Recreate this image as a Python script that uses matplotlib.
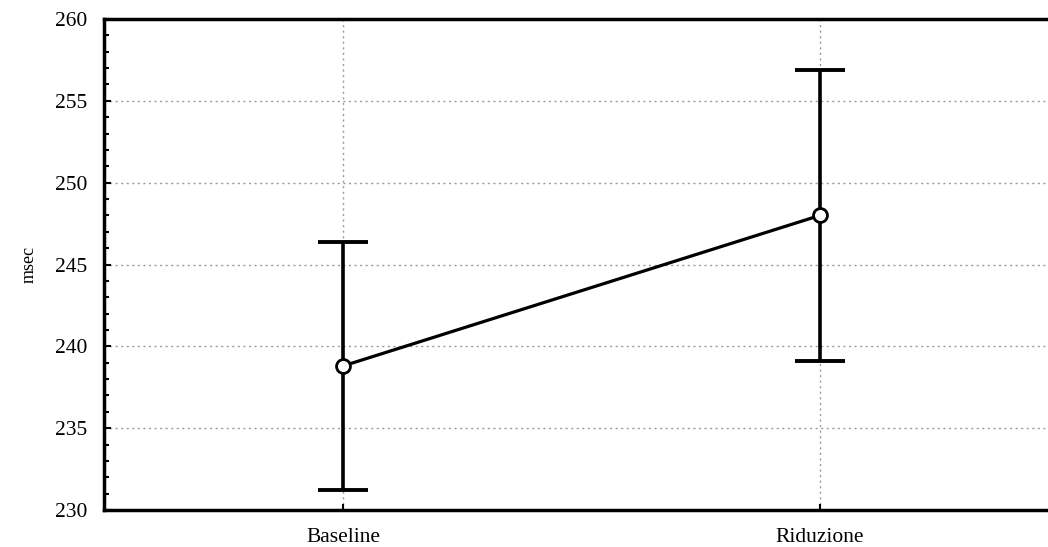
import matplotlib
matplotlib.use("Agg")
import matplotlib.pyplot as plt
from matplotlib.ticker import MultipleLocator

categories = ["Baseline", "Riduzione"]
means = [238.8, 248.0]
ci_half = [7.55, 8.9]
y_ticks = [230, 235, 240, 245, 250, 255, 260]
y_label = "msec"

plt.rcParams['font.family'] = ['Liberation Serif', 'DejaVu Serif']

W, H = 1048, 547
fig = plt.figure(figsize=(W / 100, H / 100), dpi=100)
left, right, top, bottom = 104 / W, 1.0, 1 - 19 / H, 1 - 510 / H
ax = fig.add_axes([left, bottom, right - left, top - bottom])

x = list(range(len(categories)))
ax.errorbar(x, means, yerr=ci_half, fmt='none', ecolor='black',
            elinewidth=2.6, capsize=18, capthick=2.8, zorder=3)
ax.plot(x, means, color='black', lw=2.3, marker='o', markersize=10,
        markerfacecolor='white', markeredgecolor='black', markeredgewidth=2.0,
        zorder=4)

ax.set_xlim(-0.501, 1.478)
ax.set_ylim(230, 260)
ax.set_yticks(y_ticks)
ax.yaxis.set_minor_locator(MultipleLocator(1))
ax.set_xticks(x)
ax.set_xticklabels(categories)

ax.grid(True, which='major', linestyle=(0, (1.5, 2.5)), color='#9a9a9a', lw=1.0)
ax.set_axisbelow(True)

ax.tick_params(axis='y', which='major', direction='in', length=5, width=1.5,
               labelsize=15.5, pad=12)
ax.tick_params(axis='y', which='minor', direction='in', length=3.5, width=1.5)
ax.tick_params(axis='x', which='major', direction='in', length=4, width=1.5,
               labelsize=15.5, pad=13)
ax.tick_params(right=False, top=False)

for s in ['left', 'top', 'bottom']:
    ax.spines[s].set_linewidth(2.5)
    ax.spines[s].set_color('black')
ax.spines['right'].set_visible(False)

ax.set_ylabel(y_label, fontsize=13)
ax.yaxis.set_label_coords(-0.070, 0.5)

fig.savefig("out.png", dpi=100)
